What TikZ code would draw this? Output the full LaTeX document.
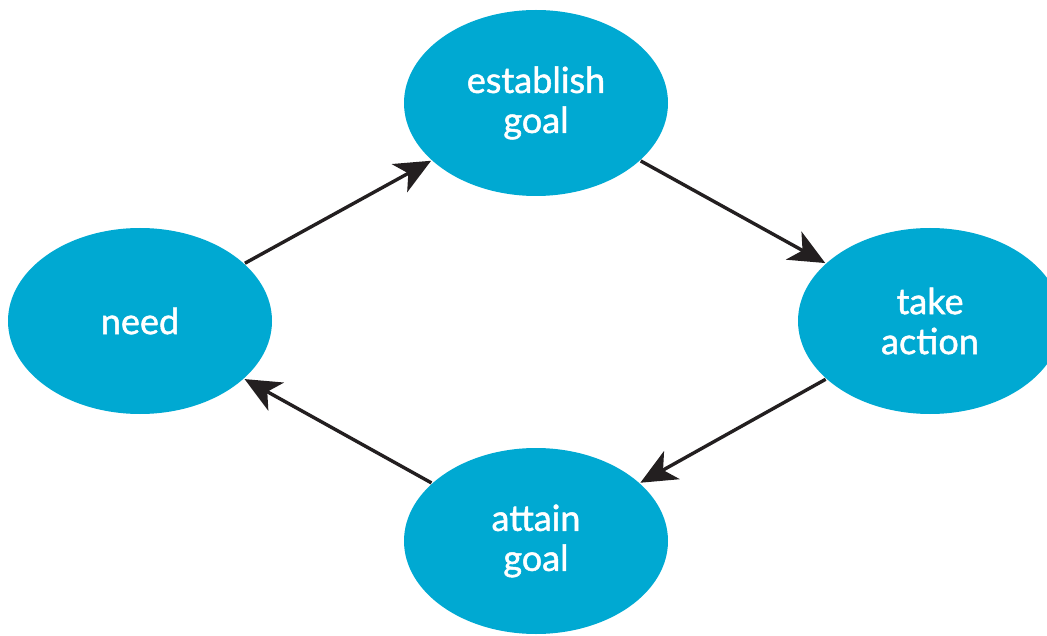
\documentclass[tikz,border=0pt]{standalone}
\usepackage{fontspec}
\setmainfont{Lato}
\newfontfamily\stagefont{Lato}[FakeBold=1.3]
\usetikzlibrary{shapes.geometric,arrows.meta}
\definecolor{cyclefill}{RGB}{0,169,210}
\definecolor{arrowink}{RGB}{35,31,32}
\begin{document}
\begin{tikzpicture}[x=1pt,y=-1pt,
  stage/.style={ellipse,fill=cyclefill,minimum width=264pt,minimum height=186pt,
    inner sep=0pt,outer sep=1pt,text=white,align=center,
    font=\stagefont\fontsize{36}{40}\selectfont},
  flow/.style={draw=arrowink,line width=3.4pt,
    -{Stealth[length=36pt,width=32pt,inset=10pt]}}]
\useasboundingbox (0,0) rectangle (1047,636);
\clip (0,0) rectangle (1047,636);
\node[stage] (need) at (140,321) {need};
\node[stage] (goal) at (536,103) {establish\\goal};
\node[stage] (act) at (930,321) {take\\action};
\node[stage] (attain) at (536,541) {attain\\goal};
\draw[flow] (need) -- (goal);
\draw[flow] (goal) -- (act);
\draw[flow] (act) -- (attain);
\draw[flow] (attain) -- (need);
\end{tikzpicture}
\end{document}
